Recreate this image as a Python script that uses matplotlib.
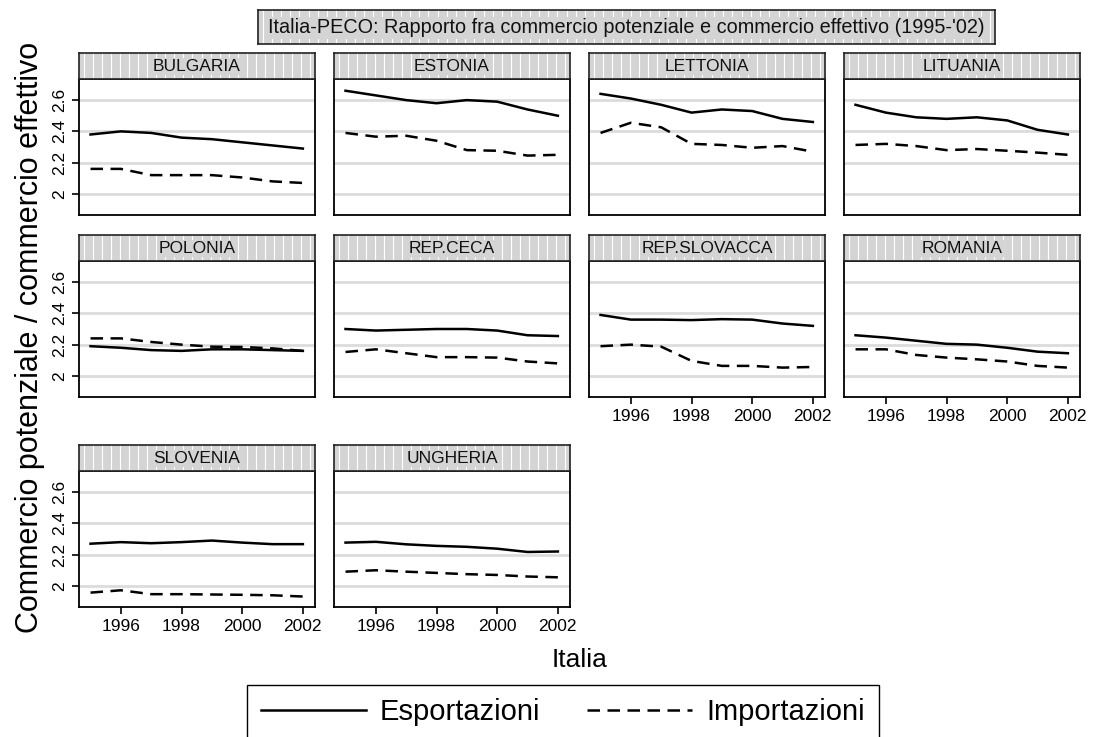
import matplotlib
matplotlib.use("Agg")
import matplotlib.pyplot as plt
from matplotlib.lines import Line2D

plt.rcParams['font.family'] = ['Liberation Sans', 'DejaVu Sans']

anni = [1995, 1996, 1997, 1998, 1999, 2000, 2001, 2002]

paesi = ["BULGARIA", "ESTONIA", "LETTONIA", "LITUANIA",
         "POLONIA", "REP.CECA", "REP.SLOVACCA", "ROMANIA",
         "SLOVENIA", "UNGHERIA"]

# Esportazioni (linea continua)
exp_bulgaria = [2.38, 2.40, 2.39, 2.36, 2.35, 2.33, 2.31, 2.29]
exp_estonia = [2.66, 2.63, 2.60, 2.58, 2.60, 2.59, 2.54, 2.50]
exp_lettonia = [2.64, 2.61, 2.57, 2.52, 2.54, 2.53, 2.48, 2.46]
exp_lituania = [2.57, 2.52, 2.49, 2.48, 2.49, 2.47, 2.41, 2.38]
exp_polonia = [2.19, 2.18, 2.165, 2.16, 2.17, 2.17, 2.165, 2.16]
exp_repceca = [2.30, 2.29, 2.295, 2.30, 2.30, 2.29, 2.26, 2.255]
exp_repslovacca = [2.39, 2.36, 2.36, 2.357, 2.363, 2.36, 2.335, 2.32]
exp_romania = [2.26, 2.245, 2.225, 2.205, 2.20, 2.18, 2.155, 2.145]
exp_slovenia = [2.27, 2.28, 2.273, 2.28, 2.29, 2.277, 2.267, 2.267]
exp_ungheria = [2.277, 2.282, 2.266, 2.256, 2.25, 2.238, 2.217, 2.22]

# Importazioni (linea tratteggiata)
imp_bulgaria = [2.16, 2.16, 2.12, 2.12, 2.12, 2.105, 2.08, 2.07]
imp_estonia = [2.39, 2.366, 2.372, 2.34, 2.28, 2.276, 2.245, 2.25]
imp_lettonia = [2.39, 2.455, 2.426, 2.32, 2.313, 2.295, 2.306, 2.27]
imp_lituania = [2.313, 2.32, 2.306, 2.28, 2.287, 2.276, 2.264, 2.25]
imp_polonia = [2.24, 2.24, 2.217, 2.20, 2.187, 2.185, 2.176, 2.16]
imp_repceca = [2.153, 2.17, 2.145, 2.12, 2.12, 2.117, 2.092, 2.08]
imp_repslovacca = [2.19, 2.20, 2.187, 2.096, 2.064, 2.064, 2.053, 2.057]
imp_romania = [2.17, 2.17, 2.134, 2.117, 2.106, 2.092, 2.064, 2.053]
imp_slovenia = [1.957, 1.972, 1.947, 1.947, 1.945, 1.943, 1.94, 1.932]
imp_ungheria = [2.091, 2.10, 2.091, 2.083, 2.075, 2.07, 2.06, 2.055]

esportazioni = [exp_bulgaria, exp_estonia, exp_lettonia, exp_lituania, exp_polonia,
                exp_repceca, exp_repslovacca, exp_romania, exp_slovenia, exp_ungheria]
importazioni = [imp_bulgaria, imp_estonia, imp_lettonia, imp_lituania, imp_polonia,
                imp_repceca, imp_repslovacca, imp_romania, imp_slovenia, imp_ungheria]

W, H = 1094, 737
fig = plt.figure(figsize=(W / 100, H / 100), dpi=100)


def rect(x0, y0, w, h):
    # da pixel (origine in alto a sinistra) a frazioni della figura
    return [x0 / W, 1 - (y0 + h) / H, w / W, h / H]


def striscia(ax, testo, fs, n=26):
    ax.set_facecolor('#d4d4d4')
    ax.set_xlim(0, 1)
    ax.set_ylim(0, 1)
    for i in range(n):
        ax.axvline((i + 0.5) / n, color='white', lw=0.8)
    ax.set_xticks([])
    ax.set_yticks([])
    for s in ax.spines.values():
        s.set_linewidth(1.2)
        s.set_color('#222222')
    ax.text(0.5, 0.48, testo, ha='center', va='center', fontsize=fs, color='#111111',
            bbox=dict(facecolor='#d4d4d4', edgecolor='none', pad=1))


col_x = [79, 334, 589, 844]
row_y = [79, 261, 471]
pw, ph, sh = 236, 136, 26

for k, nome in enumerate(paesi):
    r, c = divmod(k, 4)
    x0, y0 = col_x[c], row_y[r]
    ax = fig.add_axes(rect(x0, y0, pw, ph))
    for yv in [2.0, 2.2, 2.4, 2.6]:
        ax.axhline(yv, color='#dcdcdc', lw=2.0, zorder=0)
    ax.plot(anni, esportazioni[k], color='black', lw=1.8)
    ax.plot(anni, importazioni[k], color='black', lw=1.8, dashes=(5, 3))
    ax.set_xlim(1994.62, 2002.4)
    ax.set_ylim(1.865, 2.735)
    for s in ax.spines.values():
        s.set_linewidth(1.3)
    ax.set_yticks([2.0, 2.2, 2.4, 2.6])
    if c == 0:
        ax.set_yticklabels(['2', '2.2', '2.4', '2.6'], rotation=90, va='center', fontsize=12.5)
    else:
        ax.tick_params(axis='y', left=False, labelleft=False)
    ax.set_xticks([1996, 1998, 2000, 2002])
    ultimo = (r == 2) or (r == 1 and c >= 2)
    if ultimo:
        ax.tick_params(axis='x', labelsize=12.5, length=5, width=1.2)
    else:
        ax.tick_params(axis='x', bottom=False, labelbottom=False)
    ax.tick_params(axis='y', length=5, width=1.2)
    sax = fig.add_axes(rect(x0, y0 - sh, pw, sh))
    striscia(sax, nome, 12.5)

# titolo in una casella
tax = fig.add_axes(rect(258, 10, 737, 34))
striscia(tax, "Italia-PECO: Rapporto fra commercio potenziale e commercio effettivo (1995-'02)", 14.3, n=80)

fig.text(30 / W, 1 - 337 / H, "Commercio potenziale / commercio effettivo",
         rotation=90, ha='center', va='center', fontsize=22)
fig.text(580 / W, 1 - 660 / H, "Italia", ha='center', va='center', fontsize=19)

maniglie = [Line2D([], [], color='black', lw=1.8),
            Line2D([], [], color='black', lw=1.8, dashes=(5, 3))]
leg = fig.legend(maniglie, ["Esportazioni", "Importazioni"], ncol=2,
                 loc='upper center', bbox_to_anchor=(563 / W, 1 - 685 / H),
                 fontsize=21, handlelength=3.6, handletextpad=0.5, columnspacing=1.6,
                 frameon=True, fancybox=False, edgecolor='black', framealpha=1,
                 borderpad=0.45, borderaxespad=0)
leg.get_frame().set_linewidth(1.0)

fig.savefig("out.png", dpi=100)
